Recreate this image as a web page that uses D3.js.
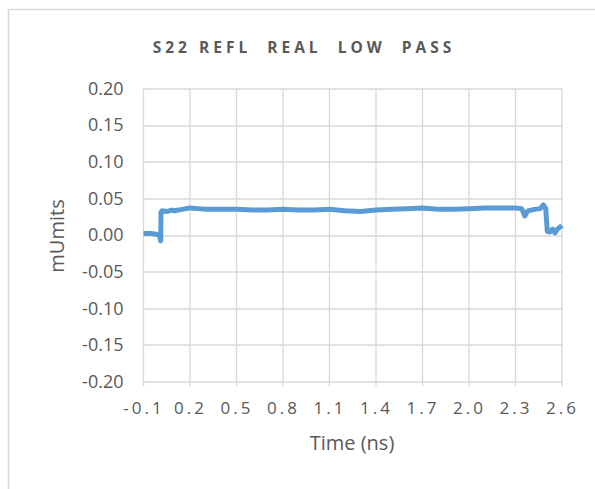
<!DOCTYPE html>
<html>
<head>
<meta charset="utf-8">
<script src="https://cdn.jsdelivr.net/npm/d3@7"></script>
<style>
  body { margin: 0; background: #fff; }
  text { font-family: "Open Sans", "Liberation Sans", sans-serif; fill: #595959; }
</style>
</head>
<body>
<svg id="chart"></svg>
<script>
const outerWidth = 595;
const outerHeight = 489;
const margin = {left: 143.5, top: 88.5, right: 33, bottom: 107.5};
const width = outerWidth - margin.left - margin.right;
const height = outerHeight - margin.top - margin.bottom;

// data
const timeNs = [-0.1, -0.05, -0.02, 0.0, 0.008, 0.011, 0.013, 0.02, 0.05, 0.08, 0.1, 0.15, 0.2, 0.25,
  0.3, 0.4, 0.5, 0.6, 0.7, 0.8, 0.9, 1.0, 1.1, 1.2, 1.3, 1.4, 1.5, 1.6, 1.7, 1.8, 1.9, 2.0,
  2.1, 2.2, 2.3, 2.34, 2.36, 2.38, 2.42, 2.46, 2.48, 2.495, 2.505, 2.52, 2.54, 2.555, 2.57, 2.6];
const mUnits = [0.002, 0.002, 0.001, 0.000, -0.005, -0.008, 0.031, 0.033, 0.032, 0.034, 0.033, 0.035, 0.037, 0.036,
  0.035, 0.035, 0.035, 0.034, 0.034, 0.035, 0.034, 0.034, 0.035, 0.033, 0.032, 0.034, 0.035, 0.036, 0.037, 0.035, 0.035, 0.036,
  0.037, 0.037, 0.037, 0.036, 0.026, 0.033, 0.035, 0.036, 0.041, 0.036, 0.005, 0.004, 0.008, 0.003, 0.008, 0.013];
const xTicks = [-0.1, 0.2, 0.5, 0.8, 1.1, 1.4, 1.7, 2.0, 2.3, 2.6];
const yTicks = [-0.20, -0.15, -0.10, -0.05, 0.00, 0.05, 0.10, 0.15, 0.20];

const svg = d3.select("#chart")
  .attr("width", outerWidth)
  .attr("height", outerHeight);

// chart border
svg.append("rect")
  .attr("x", 8.5).attr("y", 9.5)
  .attr("width", 620).attr("height", 520)
  .style("fill", "none").style("stroke", "#d9d9d9").style("stroke-width", 1.5);

const g = svg.append("g")
  .attr("transform", "translate(" + margin.left + "," + margin.top + ")");

const x = d3.scaleLinear().domain([-0.1, 2.6]).range([0, width]);
const y = d3.scaleLinear().domain([-0.2, 0.2]).range([height, 0]);

// plain hyphen instead of d3's unicode minus
const fmt = p => d => d3.format(p)(d).replace("\u2212", "-");

// gridlines
g.append("g").selectAll("line")
  .data(yTicks)
  .enter().append("line")
  .attr("x1", 0).attr("x2", width)
  .attr("y1", d => Math.round(y(d)) + 0.5).attr("y2", d => Math.round(y(d)) + 0.5)
  .style("stroke", "#d9d9d9").style("stroke-width", 1.3);

g.append("g").selectAll("line")
  .data(xTicks)
  .enter().append("line")
  .attr("x1", d => x(d)).attr("x2", d => x(d))
  .attr("y1", 0).attr("y2", height + 5)
  .style("stroke", "#d9d9d9").style("stroke-width", 1.3);

// axes labels
const xAxis = g.append("g")
  .attr("transform", "translate(0," + height + ")")
  .call(d3.axisBottom(x).tickValues(xTicks).tickFormat(fmt(".1f")).tickSize(0).tickPadding(20));
xAxis.select(".domain").remove();
xAxis.selectAll("text")
  .style("font-size", "17px").style("letter-spacing", "3px").style("fill", "#595959");

const yAxis = g.append("g")
  .call(d3.axisLeft(y).tickValues(yTicks).tickFormat(fmt(".2f")).tickSize(0).tickPadding(20));
yAxis.select(".domain").remove();
yAxis.selectAll("text")
  .style("font-size", "18px").style("fill", "#595959");

// series
const pts = timeNs.map((t, i) => [t, mUnits[i]]);
g.append("path")
  .datum(pts)
  .attr("d", d3.line().x(d => x(d[0])).y(d => y(d[1])))
  .style("fill", "none").style("stroke", "#5b9bd5")
  .style("stroke-width", 5).style("stroke-linejoin", "round");

// title and axis titles
svg.append("text")
  .attr("x", 304).attr("y", 53)
  .attr("text-anchor", "middle")
  .style("font-size", "15.5px").style("font-weight", "bold").style("letter-spacing", "4px")
  .style("white-space", "pre")
  .text("S22 REFL  REAL  LOW  PASS");

svg.append("text")
  .attr("x", 352).attr("y", 450)
  .attr("text-anchor", "middle")
  .style("font-size", "20px")
  .text("Time (ns)");

svg.append("text")
  .attr("transform", "translate(64,236) rotate(-90)")
  .attr("text-anchor", "middle")
  .style("font-size", "20px")
  .text("mUmits");
</script>
</body>
</html>
